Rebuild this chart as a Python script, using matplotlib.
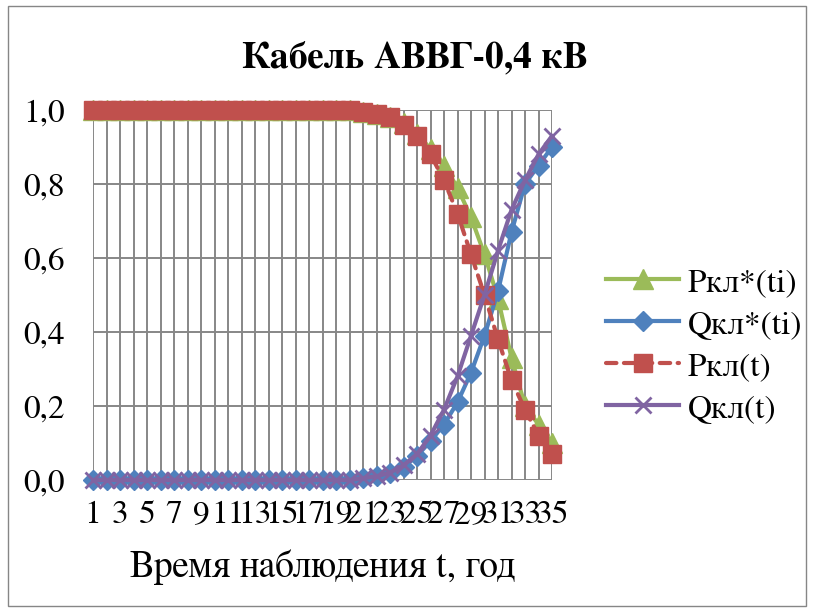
import matplotlib
matplotlib.use("Agg")
import matplotlib.pyplot as plt
from matplotlib import font_manager as fm
from matplotlib.patches import Rectangle

# ---- data ----
categories = [str(i) for i in range(1, 36)]
tick_labels = [c if int(c) % 2 == 1 else "" for c in categories]

p_star = [1.0] * 20 + [0.995, 0.99, 0.98, 0.965, 0.935, 0.895, 0.85, 0.79, 0.71,
                       0.61, 0.49, 0.33, 0.20, 0.15, 0.10]
q_star = [0.0] * 20 + [0.005, 0.01, 0.02, 0.035, 0.065, 0.105, 0.15, 0.21, 0.29,
                       0.39, 0.51, 0.67, 0.80, 0.85, 0.90]
p_t = [1.0] * 20 + [0.995, 0.99, 0.98, 0.96, 0.93, 0.88, 0.81, 0.72, 0.61,
                    0.50, 0.38, 0.27, 0.19, 0.12, 0.07]
q_t = [0.0] * 20 + [0.005, 0.01, 0.02, 0.04, 0.07, 0.12, 0.19, 0.28, 0.39,
                    0.50, 0.62, 0.73, 0.81, 0.88, 0.93]

series_labels = ["Ркл*(ti)", "Qкл*(ti)", "Ркл(t)", "Qкл(t)"]
title = "Кабель АВВГ-0,4 кВ"
xlabel = "Время наблюдения t, год"
yticks = [0.0, 0.2, 0.4, 0.6, 0.8, 1.0]


def font_file(name, weight):
    for f in fm.fontManager.ttflist:
        if f.name == name and f.style == "normal" and f.weight == weight:
            return f.fname
    return None


reg = font_file("FreeSerif", 400) or font_file("Liberation Serif", 400)
bold = font_file("FreeSerif", 700) or font_file("Liberation Serif", 700)


def fp(size, b=False):
    path = bold if b else reg
    if path:
        return fm.FontProperties(fname=path, size=size)
    return fm.FontProperties(family="serif", size=size,
                             weight="bold" if b else "normal")


W, H = 814, 612
fig = plt.figure(figsize=(W / 100, H / 100), dpi=100)
x0, x1, y0, y1 = 93, 552, 110, 480
ax = fig.add_axes([x0 / W, 1 - y1 / H, (x1 - x0) / W, (y1 - y0) / H])

x = list(range(1, 36))
grid_c = "#878787"

ax.plot(x, p_star, color="#9BBB59", lw=3, marker="^", ms=14, clip_on=False,
        label=series_labels[0], zorder=3)
ax.plot(x, q_star, color="#4F81BD", lw=3, marker="D", ms=10, clip_on=False,
        label=series_labels[1], zorder=4)
ax.plot(x, p_t, color="#C0504D", lw=3, marker="s", ms=13.5, clip_on=False,
        dashes=(2.5, 1.8), dash_capstyle="round", label=series_labels[2], zorder=5)
ax.plot(x, q_t, color="#8064A2", lw=3, marker="x", ms=12, mew=2, clip_on=False,
        label=series_labels[3], zorder=6)

ax.set_xlim(1, 35)
ax.set_ylim(0, 1)
ax.set_xticks(x)
ax.set_xticklabels(tick_labels)
ax.set_yticks(yticks)
ax.set_yticklabels([f"{v:.1f}".replace(".", ",") for v in yticks])
ax.tick_params(axis="both", length=0)
ax.tick_params(axis="y", pad=20)
ax.tick_params(axis="x", pad=15)
for lbl in ax.get_xticklabels() + ax.get_yticklabels():
    lbl.set_fontproperties(fp(24))
for s in ax.spines.values():
    s.set_visible(False)
ax.grid(True, color=grid_c, lw=1.4)
ax.set_axisbelow(True)

ax.set_xlabel(xlabel, fontproperties=fp(27))
ax.xaxis.label.set_va("baseline")
ax.xaxis.set_label_coords(0.5, (y1 - 577) / (y1 - y0))

fig.text(415 / W, 1 - 67 / H, title, fontproperties=fp(27, True),
         ha="center", va="baseline")

leg = fig.legend(loc="center left", bbox_to_anchor=(606 / W, 1 - 346 / H),
                 frameon=False, prop=fp(24), numpoints=1, handlelength=2.2,
                 handletextpad=0.25, labelspacing=0.35, borderpad=0,
                 borderaxespad=0)

fig.patches.append(Rectangle((8 / W, 6 / H), (W - 16) / W, (H - 12) / H,
                             transform=fig.transFigure, fill=False,
                             edgecolor="#868686", lw=1))

fig.savefig("out.png", dpi=100)
